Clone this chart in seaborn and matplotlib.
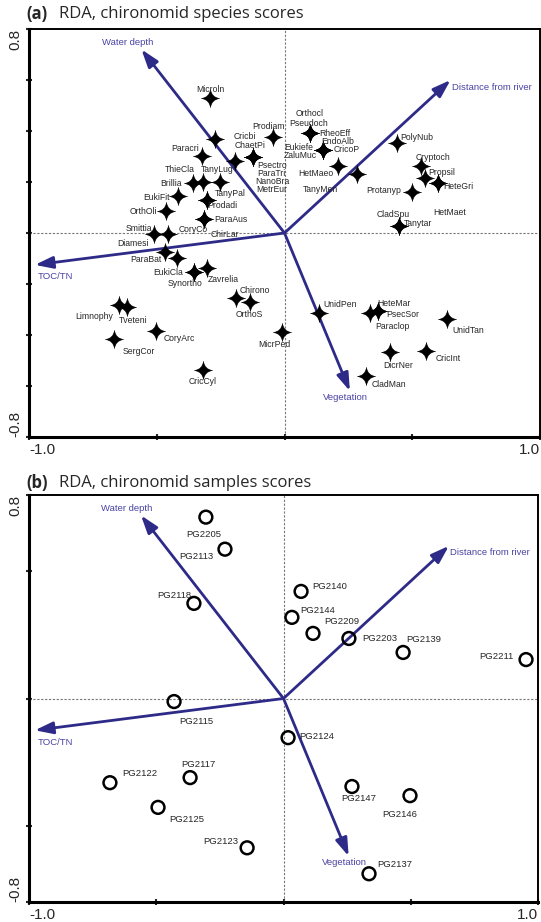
import numpy as np
import pandas as pd
import seaborn as sns
import matplotlib.pyplot as plt
from matplotlib.path import Path

# environmental variables (biplot arrows, same in both panels)
env_vars = ['Water depth', 'Distance from river', 'TOC/TN', 'Vegetation']
env_x = [-0.56, 0.65, -0.977, 0.256]
env_y = [0.72, 0.60, -0.125, -0.62]

# species scores (panel a); some labels share a point
species = ['Microln', 'Cricbi', 'Prodiam', 'Paracri', 'ChaetPi',
           'Psectro', 'ParaTri', 'NanoBra', 'MetrEur',
           'Brillia', 'ThieCla', 'TanyLug', 'EukiFit', 'TanyPal', 'Prodadi',
           'OrthOli', 'ParaAus', 'ChirLar', 'Smittia', 'CoryCo', 'Diamesi', 'ParaBat',
           'EukiCla', 'Synortho', 'Zavrelia', 'Chirono', 'OrthoS',
           'Limnophy', 'Tveteni', 'CoryArc', 'SergCor', 'CricCyl', 'MicrPed',
           'UnidPen', 'Paraclop', 'HeteMar', 'PsecSor', 'UnidTan', 'DicrNer', 'CricInt', 'CladMan',
           'Orthocl', 'Pseudoch', 'RheoEff', 'EndoAlb', 'Eukiefe', 'ZaluMuc', 'CricoP',
           'HetMaeo', 'TanyMen', 'PolyNub', 'Cryptoch', 'Propsil', 'HeteGri', 'HetMaet',
           'Protanyp', 'CladSpu', 'Tanytar']
sp_x = [-0.292, -0.272, -0.045, -0.323, -0.194,
        -0.123, -0.123, -0.123, -0.123,
        -0.358, -0.319, -0.252, -0.417, -0.303, -0.303,
        -0.464, -0.315, -0.315, -0.511, -0.456, -0.468, -0.421,
        -0.354, -0.354, -0.303, -0.190, -0.135,
        -0.648, -0.616, -0.503, -0.667, -0.319, -0.010,
        0.135, 0.335, 0.366, 0.366, 0.636, 0.413, 0.554, 0.319,
        0.100, 0.100, 0.100, 0.151, 0.151, 0.151, 0.151,
        0.209, 0.284, 0.440, 0.534, 0.550, 0.601, 0.601,
        0.499, 0.448, 0.448]
sp_y = [0.529, 0.369, 0.376, 0.302, 0.282,
        0.298, 0.298, 0.298, 0.298,
        0.196, 0.200, 0.200, 0.145, 0.129, 0.129,
        0.086, 0.055, 0.055, -0.004, -0.004, -0.075, -0.098,
        -0.153, -0.153, -0.137, -0.255, -0.271,
        -0.282, -0.290, -0.384, -0.416, -0.537, -0.388,
        -0.314, -0.314, -0.306, -0.306, -0.337, -0.467, -0.463, -0.561,
        0.392, 0.392, 0.392, 0.325, 0.325, 0.325, 0.325,
        0.263, 0.231, 0.353, 0.263, 0.216, 0.196, 0.196,
        0.161, 0.027, 0.027]

# sample scores (panel b)
samples = ['PG2205', 'PG2113', 'PG2118', 'PG2140', 'PG2144', 'PG2209', 'PG2203',
           'PG2139', 'PG2211', 'PG2115', 'PG2122', 'PG2117', 'PG2125', 'PG2123',
           'PG2124', 'PG2147', 'PG2146', 'PG2137']
smp_x = [-0.305, -0.230, -0.352, 0.069, 0.033, 0.116, 0.257,
         0.470, 0.953, -0.430, -0.682, -0.367, -0.493, -0.143,
         0.018, 0.269, 0.497, 0.336]
smp_y = [0.713, 0.587, 0.374, 0.421, 0.319, 0.256, 0.236,
         0.181, 0.153, -0.012, -0.331, -0.311, -0.428, -0.587,
         -0.154, -0.346, -0.382, -0.689]

# label offsets in pixels (dx, dy up)
sp_off = {'Microln': (0, 9), 'Cricbi': (30, 2), 'Prodiam': (-5, 11), 'Paracri': (-17, 7),
          'ChaetPi': (15, 16), 'Psectro': (19, -8), 'ParaTri': (18, -16), 'NanoBra': (19, -24),
          'MetrEur': (19, -32), 'Brillia': (-22, 0), 'ThieCla': (-23, 13), 'TanyLug': (-3, 13),
          'EukiFit': (-21, -1), 'TanyPal': (23, 7), 'Prodadi': (15, -5), 'OrthOli': (-23, 0),
          'ParaAus': (27, -1), 'ChirLar': (21, -16), 'Smittia': (-15, 6), 'CoryCo': (25, 5),
          'Diamesi': (-32, 9), 'ParaBat': (-31, -2), 'EukiCla': (-26, 0), 'Synortho': (-9, -11),
          'Zavrelia': (16, -12), 'Chirono': (19, 8), 'OrthoS': (-1, -12), 'Limnophy': (-25, -12),
          'Tveteni': (6, -14), 'CoryArc': (23, -8), 'SergCor': (25, -12), 'CricCyl': (0, -12),
          'MicrPed': (-8, -13), 'UnidPen': (21, 9), 'Paraclop': (22, -13), 'HeteMar': (16, 8),
          'PsecSor': (25, -3), 'UnidTan': (21, -12), 'DicrNer': (8, -13), 'CricInt': (22, -7),
          'CladMan': (23, -8), 'Orthocl': (0, 20), 'Pseudoch': (-1, 10), 'RheoEff': (25, 0),
          'EndoAlb': (15, 9), 'Eukiefe': (-24, 3), 'ZaluMuc': (-23, -5), 'CricoP': (24, 1),
          'HetMaeo': (-22, -8), 'TanyMen': (-37, -15), 'PolyNub': (20, 5), 'Cryptoch': (12, 8),
          'Propsil': (17, 5), 'HeteGri': (20, -3), 'HetMaet': (12, -29), 'Protanyp': (-28, 1),
          'CladSpu': (-6, 12), 'Tanytar': (19, 3)}
smp_off = {'PG2205': (-2, -17), 'PG2113': (-29, -7), 'PG2118': (-20, 8), 'PG2140': (29, 5),
           'PG2144': (26, 7), 'PG2209': (29, 12), 'PG2203': (31, 0), 'PG2139': (21, 13),
           'PG2211': (-30, 3), 'PG2115': (22, -20), 'PG2122': (30, 9), 'PG2117': (8, 13),
           'PG2125': (29, -12), 'PG2123': (-26, 6), 'PG2124': (29, 1), 'PG2147': (7, -12),
           'PG2146': (-10, -19), 'PG2137': (26, 9)}
env_off = {'Water depth': (-14, 7, 'center'), 'Distance from river': (1, -7, 'left'),
           'TOC/TN': (3, -12, 'left'), 'Vegetation': (-4, -6, 'center')}

sns.set_style('white')
plt.rcParams['font.family'] = ['Liberation Sans', 'DejaVu Sans']
lab_font = ['Liberation Sans Narrow', 'Liberation Sans', 'DejaVu Sans']
arrow_col = '#2e2a88'
env_col = '#4a43a3'

# concave four-pointed star
star = Path([(0, 1), (0.12, 0.12), (1, 0), (0.12, -0.12), (0, -1), (-0.12, -0.12),
             (-1, 0), (-0.12, 0.12), (0, 1), (0, 1)],
            [Path.MOVETO] + [Path.CURVE3] * 8 + [Path.CLOSEPOLY])

fig = plt.figure(figsize=(5.41, 9.22), dpi=100)
ax_a = fig.add_axes([29 / 541, 1 - 437 / 922, 511 / 541, 408 / 922])
ax_b = fig.add_axes([29 / 541, 1 - 902 / 922, 509 / 541, 407 / 922])


def setup(ax, yticks):
    ax.set_xlim(-1, 1)
    ax.set_ylim(-0.8, 0.8)
    ax.axhline(0, color='#777777', lw=0.8, ls=(0, (2, 1.5)), zorder=1)
    ax.axvline(0, color='#777777', lw=0.8, ls=(0, (2, 1.5)), zorder=1)
    for s in ['left', 'bottom']:
        ax.spines[s].set_linewidth(2.2)
    for s in ['top', 'right']:
        ax.spines[s].set_linewidth(1.4)
    for s in ax.spines.values():
        s.set_color('black')
    ax.set_xticks([-1, -0.5, 0, 0.5, 1])
    ax.set_xticklabels(['-1.0', '', '', '', '1.0'])
    ax.set_yticks(yticks)
    ax.set_yticklabels(['-0.8'] + [''] * (len(yticks) - 2) + ['0.8'], rotation=90)
    ax.tick_params(direction='inout', length=5, width=1.5, labelsize=11, pad=2,
                   left=True, bottom=True)
    xl = ax.get_xticklabels()
    xl[0].set_ha('left')
    xl[-1].set_ha('right')
    yl = ax.get_yticklabels()
    yl[0].set_va('bottom')
    yl[-1].set_va('top')
    ax.set_xlabel('')
    ax.set_ylabel('')
    # environmental arrows
    for name, ex, ey in zip(env_vars, env_x, env_y):
        ax.annotate('', xy=(ex, ey), xytext=(0, 0),
                    arrowprops=dict(arrowstyle='-|>,head_length=0.9,head_width=0.3',
                                    color=arrow_col, lw=2, shrinkA=0, shrinkB=0,
                                    mutation_scale=12), zorder=2)
        dx, dy, ha = env_off[name]
        ax.annotate(name, xy=(ex, ey), xytext=(dx, dy), textcoords='offset pixels',
                    ha=ha, va='center', fontsize=6.8, color=env_col, zorder=5)


# panel (a): species
df_sp = pd.DataFrame({'name': species, 'x': sp_x, 'y': sp_y})
sns.scatterplot(data=df_sp, x='x', y='y', ax=ax_a, marker=star, s=175,
                color='black', edgecolor='black', linewidth=0.3, zorder=3)
for name, x, y in zip(species, sp_x, sp_y):
    dx, dy = sp_off[name]
    ax_a.annotate(name, xy=(x, y), xytext=(dx, dy), textcoords='offset pixels',
                  ha='center', va='center', fontsize=6.2, family=lab_font, zorder=4)
setup(ax_a, np.round(np.arange(-0.8, 0.81, 0.2), 1))

# panel (b): samples
df_smp = pd.DataFrame({'name': samples, 'x': smp_x, 'y': smp_y})
sns.scatterplot(data=df_smp, x='x', y='y', ax=ax_b, marker='o', s=85,
                facecolor='none', edgecolor='black', linewidth=1.8, zorder=3)
for name, x, y in zip(samples, smp_x, smp_y):
    dx, dy = smp_off[name]
    ax_b.annotate(name, xy=(x, y), xytext=(dx, dy), textcoords='offset pixels',
                  ha='center', va='center', fontsize=6.8, family=lab_font, zorder=4)
setup(ax_b, [-0.8, -0.5, 0, 0.5, 0.8])

# panel titles
for ypix, tag, txt in [(14, '(a)', 'RDA, chironomid species scores'),
                       (483, '(b)', 'RDA, chironomid samples scores')]:
    fig.text(26 / 541, 1 - ypix / 922, tag, fontsize=12, fontweight='bold',
             va='center', ha='left', family=['Open Sans', 'DejaVu Sans'])
    fig.text(59 / 541, 1 - ypix / 922, txt, fontsize=12,
             va='center', ha='left', family=['Open Sans', 'DejaVu Sans'])

fig.savefig('out.png', dpi=100)
